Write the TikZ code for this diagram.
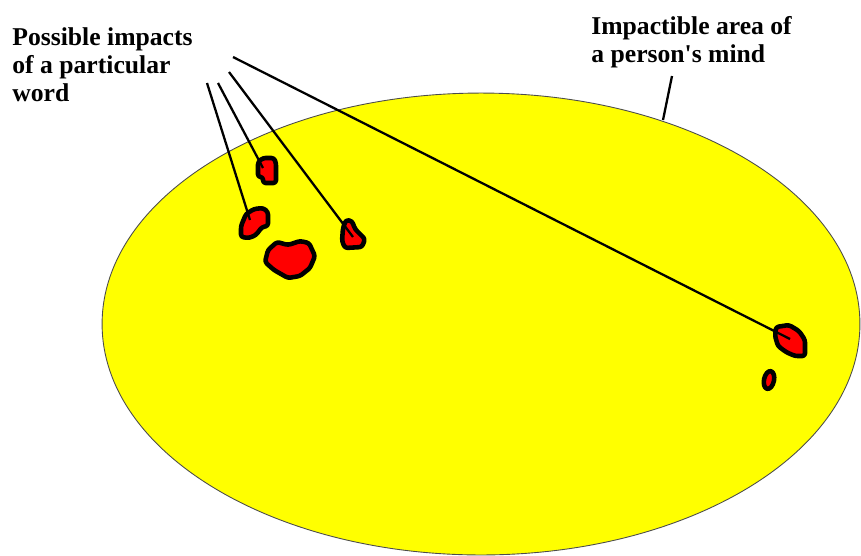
\documentclass[tikz,border=0pt]{standalone}
\usepackage{fontspec}
\setmainfont{Liberation Serif}
\usetikzlibrary{positioning}
\definecolor{mindyellow}{rgb}{1,1,0}
\definecolor{impactred}{rgb}{1,0,0}

\begin{document}
\begin{tikzpicture}[x=0.02cm, y=-0.02cm,
        impact/.style={fill=impactred, draw=black, line width=2.6pt, line join=round, rounded corners=1.5pt},
        pointer/.style={draw=black, line width=1.3pt},
        caption/.style={font=\bfseries\fontsize{14.6}{15.9}\selectfont, align=left, inner sep=0pt}]
        \useasboundingbox (0,0) rectangle (861,555);

        % Draw mind area
        \draw[fill=mindyellow, draw=black!70, line width=0.5pt] (481,324) ellipse [x radius=7.58cm, y radius=4.62cm];

        % Impact blobs
        \draw[impact] (258,162) -- (263,158) -- (274,158) -- (276,163) -- (276,183) -- (263,183) -- (263,177) -- (258,177) -- cycle;
        \draw[impact] (241,237) -- (241,226) -- (246,214) -- (254,209) -- (263,208) -- (268,212) -- (268,226) -- (262,227) -- (256,235) -- (249,238) -- cycle;
        \draw[impact] (268,250) -- (277,242) -- (288,245) -- (300,241) -- (309,243) -- (315,256) -- (310,268) -- (300,276) -- (288,278) -- (274,270) -- (265,262) -- cycle;
        \draw[impact] (343,228) -- (346,220) -- (352,221) -- (355,229) -- (365,239) -- (362,247) -- (345,248) -- (342,241) -- cycle;
        \draw[impact] (776,327) -- (789,325) -- (799,331) -- (805,340) -- (805,356) -- (795,356) -- (786,352) -- (778,346) -- (775,336) -- cycle;
        \draw[impact, rotate around={-12:(769,380)}] (769,380) ellipse [x radius=0.1cm, y radius=0.18cm];

        % Labels
        \node[caption, anchor=north west] (wordlabel) at (12,27) {Possible impacts\\of a particular\\word};
        \node[caption, anchor=north west] (mindlabel) at (591,16) {Impactible area of\\a person\textquotesingle s mind};

        % Pointer ends
        \coordinate (tailA) at (207,83);
        \coordinate (tailB) at (218,83);
        \coordinate (tailC) at (229,72);
        \coordinate (tailD) at (233,57);
        \coordinate (hitA) at (250,220);
        \coordinate (hitB) at (263,168);
        \coordinate (hitC) at (353,237);
        \coordinate (hitD) at (790,339);
        \coordinate (mindtail) at (672,76);
        \coordinate (mindedge) at (663,120);

        % Pointers
        \foreach \s/\e in {tailA/hitA, tailB/hitB, tailC/hitC, tailD/hitD, mindtail/mindedge}
            \draw[pointer] (\s) -- (\e);
    \end{tikzpicture}
\end{document}
